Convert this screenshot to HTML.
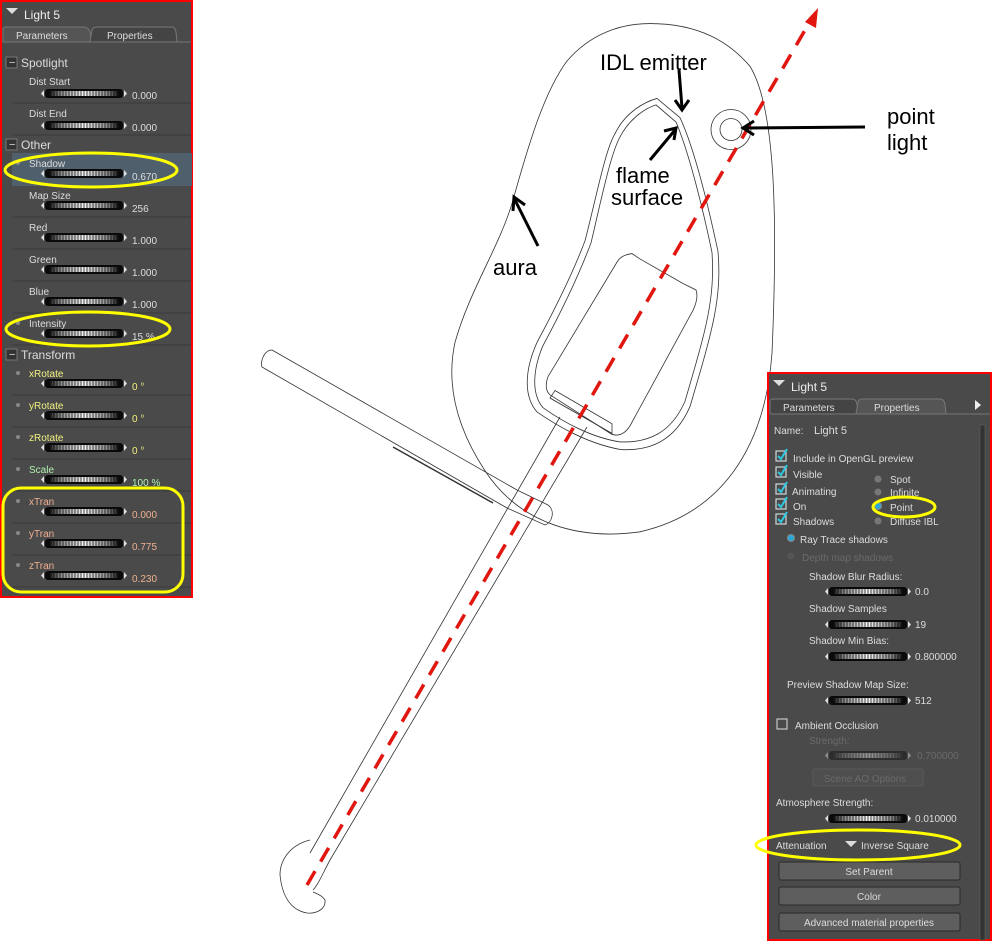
<!DOCTYPE html>
<html><head><meta charset="utf-8"><style>
html,body{margin:0;padding:0;background:#fff;}
svg{display:block;font-family:"Liberation Sans",Arial,sans-serif;}
</style></head><body>
<svg width="993" height="942" viewBox="0 0 993 942" xmlns="http://www.w3.org/2000/svg">
<defs>
<linearGradient id="sg" x1="0" x2="1" y1="0" y2="0">
<stop offset="0" stop-color="#222"/><stop offset="0.15" stop-color="#888"/><stop offset="0.5" stop-color="#f4f4f4"/><stop offset="0.85" stop-color="#888"/><stop offset="1" stop-color="#222"/>
</linearGradient>
<pattern id="rib" width="3" height="9" patternUnits="userSpaceOnUse"><rect width="2" height="9" fill="#000" opacity="0.35"/></pattern>
<g id="sl">
<polygon points="0,4.5 3,1 3,8" fill="#ddd"/>
<rect x="4" y="0" width="78" height="9" rx="3" fill="#0a0a0a"/>
<rect x="9" y="2" width="68" height="5" fill="url(#sg)"/>
<rect x="9" y="2" width="68" height="5" fill="url(#rib)"/>
<polygon points="86,4.5 83,1 83,8" fill="#ddd"/>
</g>
</defs>
<rect width="993" height="942" fill="#fff"/>

<!-- drawing -->
<g fill="none" stroke="#333" stroke-width="0.8">
<g transform="matrix(1,0,0,1.07,0,0)">
<path d="M650,22 C700,22 730,40 750,62 C775,100 778,200 772,330 C765,420 720,480 640,497 C580,505 520,490 485,440 C450,390 448,350 455,320 C470,270 500,230 513,187 C530,130 545,85 567,57 C590,32 620,22 650,22 Z"/>
<path d="M657,92 L680,110 C695,140 710,200 718,235 C722,280 712,310 690,380 C675,412 650,422 620,420 C590,415 560,400 537,385 C523,370 525,345 537,320 C560,280 575,250 585,225 C595,190 605,140 615,125 C625,105 645,95 657,92 Z"/>
<path d="M656,98 L676,114 C690,145 704,200 712,236 C715,280 706,308 685,375 C671,405 648,414 620,413 C592,409 564,395 543,381 C531,368 533,345 543,323 C566,283 581,252 591,227 C600,192 610,145 620,128 C630,110 646,101 656,98 Z"/>
<path d="M632,237 C625,238 620,240 617,245 L548,352 C545,360 546,366 550,369 L612,406 C620,408 626,404 630,398 L693,290 C697,282 698,276 696,271 L683,265 L640,242 Z"/>
<path d="M555,365 L612,396 L612,405 L550,372 Z"/>
<circle cx="731" cy="121" r="20" transform="matrix(1,0,0,0.935,0,7.9)"/><circle cx="731" cy="121" r="11" transform="matrix(1,0,0,0.935,0,7.9)"/>
</g>
<path d="M272,350 L517,490 M262,367 L507,508 M272,350 C264,350 260,362 262,367"/>
<path d="M517,490 L548,505 C555,510 553,522 545,525 L507,508"/>
<path d="M393,447 L493,503" stroke-width="1.5"/>
<path d="M560,417 L310,853 M587,427 L330,860 C322,875 318,885 313,890"/>
<path d="M310,840 C290,845 280,860 280,875 C282,895 290,910 307,913 C318,914 326,908 325,900 C322,895 315,893 313,892"/>
</g>
<line x1="307" y1="885" x2="808" y2="25" stroke="#e0160f" stroke-width="3.5" stroke-dasharray="16,11"/>
<polygon points="818,8 805,22 816,28" fill="#e0160f"/>

<!-- labels & arrows -->
<g font-size="22" fill="#000">
<text x="600" y="70">IDL emitter</text>
<text x="887" y="124">point</text><text x="887" y="150">light</text>
<text x="616" y="183">flame</text><text x="611" y="205">surface</text>
<text x="493" y="275">aura</text>
</g>
<g stroke="#000" stroke-width="3" fill="none">
<line x1="679" y1="70" x2="682" y2="108"/><polyline points="675,100 682,110 689,100"/>
<line x1="865" y1="127" x2="745" y2="128"/><polyline points="754,121 743,128 754,135"/>
<line x1="650" y1="160" x2="675" y2="130"/><polyline points="664,131 676,128 674,140"/>
<line x1="538" y1="246" x2="515" y2="200"/><polyline points="513,211 514,197 525,205"/>
</g>

<!-- LEFT PANEL -->
<rect x="1" y="1" width="191" height="596" fill="#4a4a4a" stroke="#ff0000" stroke-width="2"/>
<polygon points="6,8 18,8 12,14" fill="#ddd"/>
<text x="24" y="19" font-size="12" fill="#eee">Light 5</text>
<path d="M3,42 L3,30 Q3,27 6,27 L84,27 Q88,27 90,32 L92,42 Z" fill="#555" stroke="#777"/>
<path d="M90,42 L92,30 Q93,27 97,27 L172,27 Q175,27 176,32 L177,42" fill="#444" stroke="#777"/>
<line x1="3" y1="42" x2="191" y2="42" stroke="#777"/>
<text x="16" y="39" font-size="10" fill="#ddd">Parameters</text>
<text x="107" y="39" font-size="10" fill="#ddd">Properties</text>
<g font-size="12" fill="#ddd">
<rect x="6" y="57" width="11" height="11" fill="#333" stroke="#777"/><text x="9" y="66" font-size="11">−</text><text x="21" y="67">Spotlight</text>
<rect x="6" y="139" width="11" height="11" fill="#333" stroke="#777"/><text x="9" y="148" font-size="11">−</text><text x="21" y="149">Other</text>
<rect x="6" y="349" width="11" height="11" fill="#333" stroke="#777"/><text x="9" y="358" font-size="11">−</text><text x="21" y="359">Transform</text>
</g>
<rect x="12" y="153" width="180" height="33" fill="#4f606c"/>
<g stroke="#3a3a3a">
<line x1="12" y1="103" x2="191" y2="103"/><line x1="12" y1="135" x2="191" y2="135"/>
<line x1="12" y1="217" x2="191" y2="217"/><line x1="12" y1="249" x2="191" y2="249"/><line x1="12" y1="281" x2="191" y2="281"/><line x1="12" y1="313" x2="191" y2="313"/><line x1="12" y1="345" x2="191" y2="345"/>
<line x1="12" y1="395" x2="191" y2="395"/><line x1="12" y1="427" x2="191" y2="427"/><line x1="12" y1="459" x2="191" y2="459"/><line x1="12" y1="491" x2="191" y2="491"/><line x1="12" y1="523" x2="191" y2="523"/><line x1="12" y1="555" x2="191" y2="555"/><line x1="12" y1="587" x2="191" y2="587"/>
</g>
<g fill="#888"><circle cx="18" cy="163" r="2"/><circle cx="18" cy="323" r="2"/><circle cx="18" cy="373" r="2"/><circle cx="18" cy="405" r="2"/><circle cx="18" cy="437" r="2"/><circle cx="18" cy="469" r="2"/><circle cx="18" cy="501" r="2"/><circle cx="18" cy="533" r="2"/><circle cx="18" cy="565" r="2"/></g>
<g font-size="10" fill="#ddd">
<text x="29" y="85">Dist Start</text><use href="#sl" x="41" y="89"/><text x="132" y="99">0.000</text>
<text x="29" y="117">Dist End</text><use href="#sl" x="41" y="121"/><text x="132" y="131">0.000</text>
<text x="29" y="167">Shadow</text><use href="#sl" x="41" y="169"/><text x="132" y="180">0.670</text>
<text x="29" y="199">Map Size</text><use href="#sl" x="41" y="201"/><text x="132" y="212">256</text>
<text x="29" y="231">Red</text><use href="#sl" x="41" y="233"/><text x="132" y="244">1.000</text>
<text x="29" y="263">Green</text><use href="#sl" x="41" y="265"/><text x="132" y="276">1.000</text>
<text x="29" y="295">Blue</text><use href="#sl" x="41" y="297"/><text x="132" y="308">1.000</text>
<text x="29" y="327">Intensity</text><use href="#sl" x="41" y="329"/><text x="132" y="340">15 %</text>
</g>
<g font-size="10">
<text x="29" y="377" fill="#f0f080">xRotate</text><use href="#sl" x="41" y="379"/><text x="132" y="390" fill="#f0f080">0 °</text>
<text x="29" y="409" fill="#f0f080">yRotate</text><use href="#sl" x="41" y="411"/><text x="132" y="422" fill="#f0f080">0 °</text>
<text x="29" y="441" fill="#f0f080">zRotate</text><use href="#sl" x="41" y="443"/><text x="132" y="454" fill="#f0f080">0 °</text>
<text x="29" y="473" fill="#b0f0b0">Scale</text><use href="#sl" x="41" y="475"/><text x="132" y="486" fill="#b0f0b0">100 %</text>
<text x="29" y="505" fill="#f0b090">xTran</text><use href="#sl" x="41" y="507"/><text x="132" y="518" fill="#f0b090">0.000</text>
<text x="29" y="537" fill="#f0b090">yTran</text><use href="#sl" x="41" y="539"/><text x="132" y="550" fill="#f0b090">0.775</text>
<text x="29" y="569" fill="#f0b090">zTran</text><use href="#sl" x="41" y="571"/><text x="132" y="582" fill="#f0b090">0.230</text>
</g>
<g fill="none" stroke="#ffff00" stroke-width="3">
<ellipse cx="91" cy="170" rx="86" ry="17"/>
<ellipse cx="88" cy="329" rx="82" ry="17"/>
<rect x="3" y="488" width="180" height="104" rx="18"/>
</g>

<!-- RIGHT PANEL -->
<rect x="768" y="373" width="223" height="567" fill="#4a4a4a" stroke="#ff0000" stroke-width="2"/>
<polygon points="773,380 785,380 779,386" fill="#ddd"/>
<text x="791" y="391" font-size="12" fill="#eee">Light 5</text>
<path d="M770,414 L770,402 Q770,399 773,399 L852,399 Q856,399 857,404 L858,414" fill="#444" stroke="#777"/>
<path d="M856,414 L858,402 Q859,399 863,399 L940,399 Q944,399 945,404 L946,414" fill="#555" stroke="#777"/>
<line x1="770" y1="414" x2="990" y2="414" stroke="#777"/>
<text x="783" y="411" font-size="10" fill="#ddd">Parameters</text>
<text x="874" y="411" font-size="10" fill="#ddd">Properties</text>
<polygon points="975,400 981,405 975,410" fill="#eee"/>
<rect x="980" y="425" width="5" height="515" fill="#333" stroke="#666" stroke-width="0.5"/>
<g font-size="10" fill="#ddd">
<text x="774" y="434">Name:</text><text x="814" y="434" font-size="11">Light 5</text>
<text x="793" y="462">Include in OpenGL preview</text>
<text x="793" y="478">Visible</text>
<text x="792" y="495">Animating</text>
<text x="793" y="510">On</text>
<text x="793" y="525">Shadows</text>
<text x="890" y="483">Spot</text><text x="890" y="496">Infinite</text><text x="890" y="511">Point</text><text x="890" y="525">Diffuse IBL</text>
<text x="800" y="543">Ray Trace shadows</text>
<text x="802" y="561" fill="#6a6a6a">Depth map shadows</text>
<text x="809" y="580">Shadow Blur Radius:</text><use href="#sl" x="825" y="587"/><text x="915" y="595">0.0</text>
<text x="809" y="612">Shadow Samples</text><use href="#sl" x="825" y="620"/><text x="915" y="628">19</text>
<text x="809" y="644">Shadow Min Bias:</text><use href="#sl" x="825" y="652"/><text x="915" y="660">0.800000</text>
<text x="787" y="688">Preview Shadow Map Size:</text><use href="#sl" x="825" y="696"/><text x="915" y="704">512</text>
<text x="795" y="729">Ambient Occlusion</text>
<text x="809" y="744" fill="#6a6a6a">Strength:</text><use href="#sl" x="825" y="751" opacity="0.45"/><text x="917" y="759" fill="#6a6a6a">0.700000</text>
<rect x="813" y="769" width="110" height="17" rx="2" fill="#4e4e4e" stroke="#5a5a5a"/><text x="824" y="782" fill="#6a6a6a">Scene AO Options</text>
<text x="776" y="806">Atmosphere Strength:</text><use href="#sl" x="825" y="814"/><text x="915" y="822">0.010000</text>
<text x="776" y="849">Attenuation</text><polygon points="845,841 857,841 851,847" fill="#ddd"/><text x="861" y="849">Inverse Square</text>
</g>
<g fill="none" stroke="#cfd8dc" stroke-width="1.2">
<rect x="776" y="451" width="10" height="10"/><rect x="776" y="467" width="10" height="10"/><rect x="776" y="484" width="10" height="10"/><rect x="776" y="499" width="10" height="10"/><rect x="776" y="514" width="10" height="10"/>
</g>
<rect x="777" y="719" width="10" height="10" fill="none" stroke="#ddd"/>
<g stroke="#2ec8e0" stroke-width="2" fill="none">
<polyline points="778,456 781,459 787,449"/><polyline points="778,472 781,475 787,465"/><polyline points="778,489 781,492 787,482"/><polyline points="778,504 781,507 787,497"/><polyline points="778,519 781,522 787,512"/>
</g>
<g fill="#777"><circle cx="878" cy="479" r="3.5"/><circle cx="878" cy="492" r="3.5"/><circle cx="878" cy="521" r="3.5"/><circle cx="791" cy="556" r="3.5" fill="#555"/></g>
<circle cx="878" cy="506" r="3.5" fill="#2aa8d8" stroke="#888"/>
<circle cx="791" cy="538" r="3.5" fill="#2aa8d8" stroke="#888"/>
<g font-size="10" fill="#ddd">
<rect x="779" y="862" width="181" height="18" rx="2" fill="#5e5e5e" stroke="#2a2a2a"/><text x="869" y="875" text-anchor="middle">Set Parent</text>
<rect x="779" y="887" width="181" height="18" rx="2" fill="#5e5e5e" stroke="#2a2a2a"/><text x="869" y="900" text-anchor="middle">Color</text>
<rect x="779" y="913" width="181" height="18" rx="2" fill="#5e5e5e" stroke="#2a2a2a"/><text x="869" y="926" text-anchor="middle">Advanced material properties</text>
</g>
<g fill="none" stroke="#ffff00" stroke-width="3">
<ellipse cx="904" cy="507" rx="31" ry="10"/>
<ellipse cx="858" cy="845" rx="102" ry="15"/>
</g>
</svg>
</body></html>
